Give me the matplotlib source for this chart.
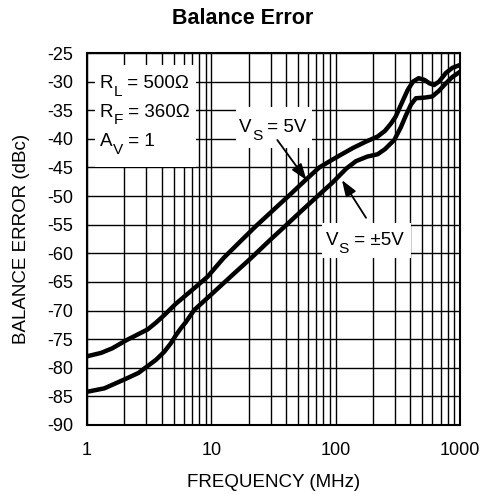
import matplotlib
matplotlib.use("Agg")
import matplotlib.pyplot as plt
from matplotlib.patches import Rectangle

plt.rcParams['font.family'] = ['Liberation Sans', 'DejaVu Sans']
plt.rcParams['axes.unicode_minus'] = False

# values
freq_5v = [1, 1.3, 1.6, 2.07, 2.5, 3.08, 3.6, 4.19, 5.2, 6.2, 7.3, 9.33, 12.6, 17, 23, 31,
           42.8, 58, 74, 90, 110, 138, 175, 218, 250, 280, 305, 340, 380, 420, 466, 520,
           570, 620, 680, 772, 870, 1000]
err_5v = [-78.0, -77.4, -76.6, -75.2, -74.3, -73.3, -72.1, -70.8, -68.8, -67.4, -66.1, -64.1,
          -60.8, -58.0, -55.2, -52.6, -49.8, -47.1, -45.0, -43.9, -42.8, -41.6, -40.5, -39.6,
          -38.6, -37.3, -36.1, -33.8, -31.5, -30.0, -29.4, -29.7, -30.3, -30.6, -30.0, -28.5,
          -27.6, -27.1]

freq_pm5v = [1, 1.38, 2.07, 2.6, 3.08, 3.6, 4.19, 4.74, 5.2, 5.7, 6.26, 7.3, 10, 14.8, 21,
             30, 40, 55, 71, 95, 122, 146, 180, 218, 250, 297, 335, 370, 405, 443, 520, 600,
             680, 772, 870, 1000]
err_pm5v = [-84.2, -83.6, -81.9, -80.9, -79.7, -78.6, -77.2, -75.7, -74.3, -73.1, -72.0, -69.9,
            -67.2, -63.8, -60.8, -57.6, -55.1, -52.3, -50.1, -47.6, -45.2, -43.9, -43.1, -42.7,
            -41.8, -40.2, -38.0, -35.8, -34.0, -32.9, -32.8, -32.6, -31.6, -30.3, -29.2, -28.3]

yticks = list(range(-90, -24, 5))
xticks = [1, 10, 100, 1000]

fig = plt.figure(figsize=(4.83, 4.94), dpi=100)
ax = fig.add_axes([0.180, 0.1397, 0.772, 0.753])

ax.set_xscale('log')
ax.set_xlim(1, 1000)
ax.set_ylim(-90, -25)
ax.set_yticks(yticks)
ax.set_yticklabels([str(v) for v in yticks])
ax.set_xticks(xticks)
ax.set_xticklabels([str(v) for v in xticks])
ax.minorticks_on()
ax.yaxis.set_minor_locator(matplotlib.ticker.NullLocator())
ax.tick_params(which='both', length=0)
ax.tick_params(axis='y', labelsize=13, pad=10)
ax.tick_params(axis='x', labelsize=13, pad=12)
ax.grid(True, which='both', color='black', lw=1.0)
for s in ax.spines.values():
    s.set_linewidth(1.5)

for f, e in [(freq_5v, err_5v), (freq_pm5v, err_pm5v)]:
    ax.plot(f, e, color='black', lw=3.2, zorder=4, solid_joinstyle='round')


def sub_label(x, y, main, sub, rest, fs=13.5):
    # big subscript, as in the datasheet
    t1 = ax.text(x, y, main, fontsize=fs, va='baseline', zorder=3)
    t2 = ax.annotate(sub, xy=(1, 0), xycoords=t1, xytext=(0.2, -5.0),
                     textcoords='offset points', fontsize=fs * 0.82, va='bottom', zorder=3)
    ax.annotate(rest, xy=(1, 0), xycoords=(t2, t1), xytext=(0, 0),
                textcoords='offset points', fontsize=fs, va='bottom', zorder=3)


# white areas behind the labels
ax.add_patch(Rectangle((1.17, -45), 7.6 - 1.17, 17.9, fc='white', ec='none', zorder=2))
ax.add_patch(Rectangle((15.9, -41.6), 64.8 - 15.9, 7.2, fc='white', ec='none', zorder=2))
ax.add_patch(Rectangle((78, -60.8), 402 - 78, 6.1, fc='white', ec='none', zorder=2))

sub_label(1.27, -31.2, 'R', 'L', ' = 500Ω')
sub_label(1.27, -36.1, 'R', 'F', ' = 360Ω')
sub_label(1.27, -41.3, 'A', 'V', ' = 1')
sub_label(16.8, -38.8, 'V', 'S', ' = 5V')
sub_label(83.5, -58.6, 'V', 'S', ' = ±5V')

arrow = dict(arrowstyle='-|>,head_length=0.7,head_width=0.25', color='black', lw=1.3,
             mutation_scale=14, shrinkA=0, shrinkB=0)
ax.annotate('', xy=(58.4, -47.2), xytext=(34.0, -40.2), arrowprops=arrow, zorder=3)
ax.annotate('', xy=(112.6, -47.2), xytext=(176, -53.8), arrowprops=arrow, zorder=3)

ax.set_xlabel('FREQUENCY (MHz)', fontsize=13.5, labelpad=11)
ax.set_ylabel('BALANCE ERROR (dBc)', fontsize=13.5, labelpad=12)
fig.text(0.503, 0.962, 'Balance Error', fontsize=15.5, fontweight='bold', ha='center', va='center')

fig.savefig('out.png', dpi=100)
